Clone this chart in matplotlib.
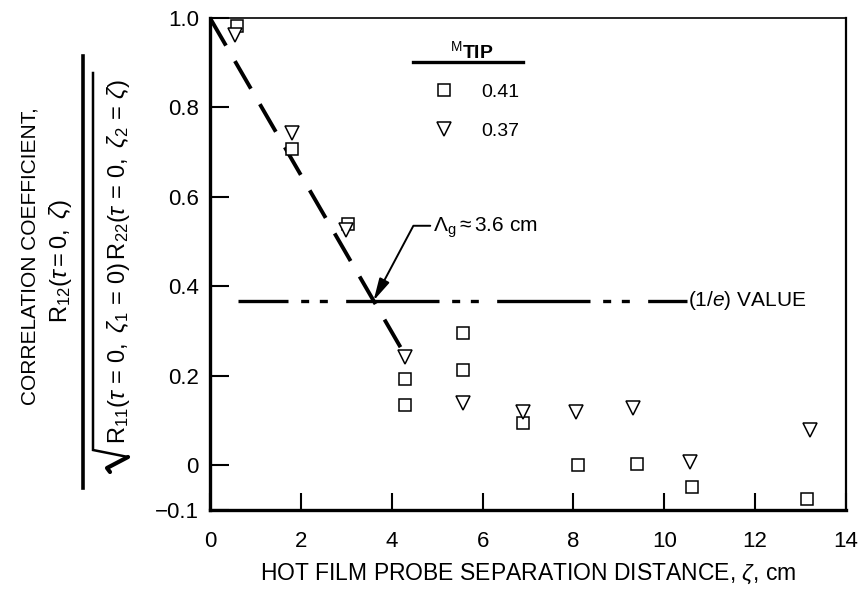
import numpy as np
import matplotlib
matplotlib.use('Agg')
import matplotlib.pyplot as plt
from matplotlib.lines import Line2D

plt.rcParams['font.family'] = ['Liberation Sans', 'DejaVu Sans']
plt.rcParams['mathtext.fontset'] = 'custom'
plt.rcParams['mathtext.rm'] = 'Liberation Sans'
plt.rcParams['mathtext.it'] = 'Liberation Sans:italic'
plt.rcParams['mathtext.bf'] = 'Liberation Sans:bold'

# hot film probe correlations, M_tip = 0.41 (squares)
sq_x = np.array([0.59, 1.80, 3.04, 4.30, 4.30, 5.57, 5.57, 6.90, 8.10, 9.40, 10.60, 13.15])
sq_y = np.array([0.981, 0.707, 0.540, 0.192, 0.134, 0.295, 0.214, 0.094, 0.000, 0.003, -0.049, -0.076])

# M_tip = 0.37 (triangles)
tri_x = np.array([0.55, 1.80, 3.00, 4.30, 5.57, 6.90, 8.06, 9.32, 10.57, 13.20])
tri_y = np.array([0.962, 0.743, 0.527, 0.243, 0.140, 0.120, 0.118, 0.127, 0.007, 0.078])

# faired line through the near-field points
fit_x = [0.0, 4.25]
fit_y = [1.0, 0.254]

# 1/e level and the integral scale where the faired line crosses it
e_level = 0.368
e_x = [0.62, 10.5]
lambda_g = 3.6

x_ticks = [0, 2, 4, 6, 8, 10, 12, 14]
y_ticks = [-0.1, 0, 0.2, 0.4, 0.6, 0.8, 1.0]
y_ticklabels = ['\u22120.1', '0', '0.2', '0.4', '0.6', '0.8', '1.0']

fig = plt.figure(figsize=(8.6, 5.89), dpi=100)
W, H = 860.0, 589.0
ax = fig.add_axes([210 / W, 1 - 510 / H, 636 / W, 492 / H])

ax.plot(fit_x, fit_y, color='black', lw=2.8, dashes=(8.2, 4.6), solid_capstyle='butt', dash_capstyle='butt')
ax.plot(e_x, [e_level, e_level], color='black', lw=2.4,
        linestyle=(13, (28, 3.8, 2.4, 3.2, 2.4, 5.5)), dash_capstyle='butt')

sq, = ax.plot(sq_x, sq_y, ls='none', marker='s', ms=8.5, mfc='white', mec='black', mew=1.1, label='0.41')
tri, = ax.plot(tri_x, tri_y, ls='none', marker='v', ms=10, mfc='white', mec='black', mew=1.1, label='0.37')

leg = ax.legend(handles=[sq, tri], title=r'${}^{\mathregular{M}}\mathbf{TIP}$', frameon=False,
                loc='center', bbox_to_anchor=(0.412, 0.853), fontsize=14, title_fontsize=14,
                labelspacing=1.1, handletextpad=0.9, borderpad=0, numpoints=1)
ax.plot([0.319, 0.492], [0.91, 0.91], transform=ax.transAxes, color='black', lw=2.4, clip_on=False)

ax.text(10.53, e_level, '(1/$e$) VALUE', fontsize=15, ha='left', va='center')

ax.annotate(r'$\Lambda_{\mathrm{g}} \approx$3.6 cm', xy=(lambda_g, e_level), xytext=(4.91, 0.53),
            fontsize=15, ha='left', va='center',
            arrowprops=dict(arrowstyle='-|>,head_length=0.9,head_width=0.22', color='black', lw=1.4,
                            connectionstyle='angle,angleA=0,angleB=62,rad=0',
                            relpos=(0, 0.6), shrinkA=0, shrinkB=0))

ax.set_xlim(0, 14)
ax.set_ylim(-0.1, 1.0)
ax.set_xticks(x_ticks)
ax.set_yticks(y_ticks)
ax.set_yticklabels(y_ticklabels)
ax.tick_params(axis='both', direction='in', labelsize=16)
ax.tick_params(axis='x', length=12, width=1.5, pad=15)
ax.tick_params(axis='y', length=14, width=1.5, pad=8)
for side, lw in [('left', 2.4), ('bottom', 2.4), ('top', 1.2), ('right', 1.6)]:
    ax.spines[side].set_linewidth(lw)

ax.set_xlabel(r'HOT FILM PROBE SEPARATION DISTANCE, $\zeta$, cm', fontsize=16.5, labelpad=7)

# stacked y label: title, numerator, fraction bar, radical, denominator
fig.text(30 / W, 1 - 256 / H, 'CORRELATION COEFFICIENT,', rotation=90, fontsize=15, ha='center', va='center')
fig.text(60 / W, 1 - 261 / H, r'$\mathrm{R}_{12}(\tau = 0,\ \zeta)$', rotation=90, fontsize=17,
         ha='center', va='center')
fig.add_artist(Line2D([83 / W, 83 / W], [1 - 56 / H, 1 - 488 / H], color='black', lw=2.6))
fig.add_artist(Line2D([93 / W, 93 / W, 128 / W], [1 - 73 / H, 1 - 450 / H, 1 - 457 / H],
                      color='black', lw=1.8, solid_joinstyle='miter'))
fig.add_artist(Line2D([128 / W, 107 / W, 110 / W], [1 - 457 / H, 1 - 468 / H, 1 - 472 / H],
                      color='black', lw=3.0, solid_capstyle='round'))
fig.text(118 / W, 1 - 262 / H,
         r'$\mathrm{R}_{11}(\tau\,=\,0,\ \zeta_1\,=\,0)\,\mathrm{R}_{22}(\tau\,=\,0,\ \zeta_2\,=\,\zeta)$',
         rotation=90, fontsize=17, ha='center', va='center')

fig.savefig('out.png', dpi=100)
